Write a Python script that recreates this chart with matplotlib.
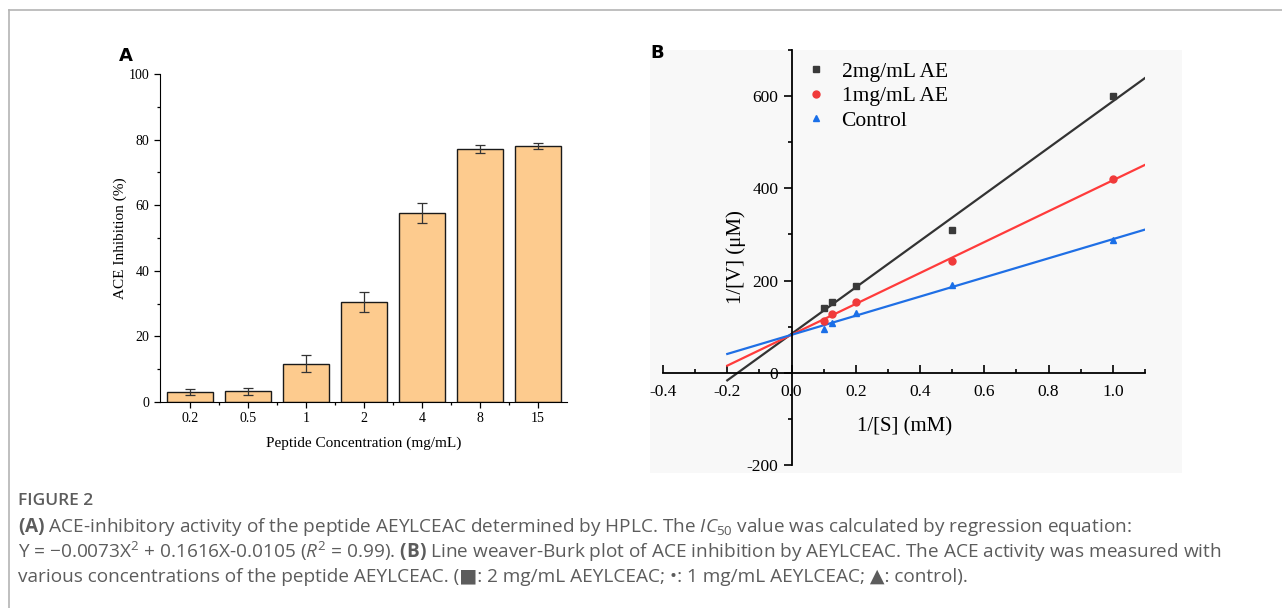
import numpy as np
import matplotlib.pyplot as plt
from matplotlib.ticker import MultipleLocator
from matplotlib.patches import Rectangle
from matplotlib.lines import Line2D

plt.rcParams['mathtext.fontset'] = 'custom'
plt.rcParams['mathtext.rm'] = 'Open Sans'
plt.rcParams['mathtext.it'] = 'Open Sans:italic'
plt.rcParams['mathtext.bf'] = 'Open Sans:bold'

# panel A data
conc_labels = ['0.2', '0.5', '1', '2', '4', '8', '15']
inhibition = [3.0, 3.3, 11.7, 30.5, 57.6, 77.2, 78.0]
inhibition_err = [1.0, 1.1, 2.6, 3.1, 3.1, 1.3, 0.9]

# panel B data (Lineweaver-Burk)
inv_s = [0.1, 0.125, 0.2, 0.5, 1.0]
inv_v_2mg = [140, 154, 189, 310, 600]
inv_v_1mg = [113, 128, 153, 243, 420]
inv_v_ctrl = [95, 109, 129, 191, 287]

serif = 'Liberation Serif'

fig = plt.figure(figsize=(12.82, 6.08), dpi=100)

# figure frame (left and top lines)
fig.add_artist(Line2D([9/1282, 9/1282], [0, 1 - 10/608], color='#b4b4b4', lw=1.2))
fig.add_artist(Line2D([9/1282, 1], [1 - 10/608, 1 - 10/608], color='#b4b4b4', lw=1.2))

# ---- panel A ----
ax1 = fig.add_axes([160/1282, 1 - 402/608, 407/1282, 328/608])
x = np.arange(len(conc_labels))
ax1.bar(x, inhibition, width=0.8, color='#fdcb8e', edgecolor='#1a1a1a', linewidth=1.0,
        yerr=inhibition_err, capsize=3.5, error_kw=dict(ecolor='#333333', elinewidth=0.9, capthick=0.9))
ax1.set_xlim(-0.52, 6.5)
ax1.set_ylim(0, 100)
ax1.set_xticks(x)
ax1.set_xticklabels(conc_labels)
ax1.set_xticks(x[:-1] + 0.5, minor=True)
ax1.yaxis.set_major_locator(MultipleLocator(20))
ax1.yaxis.set_minor_locator(MultipleLocator(10))
ax1.spines['top'].set_visible(False)
ax1.spines['right'].set_visible(False)
ax1.tick_params(which='major', length=4, width=0.9, labelsize=10)
ax1.tick_params(which='minor', length=2.5, width=0.9)
for lab in ax1.get_xticklabels() + ax1.get_yticklabels():
    lab.set_fontfamily(serif)
ax1.set_xlabel('Peptide Concentration (mg/mL)', fontfamily=serif, fontsize=11, labelpad=8)
ax1.set_ylabel('ACE Inhibition (%)', fontfamily=serif, fontsize=11, labelpad=1)
fig.text(119/1282, 1 - 56/608, 'A', fontsize=13, fontweight='bold', fontfamily='DejaVu Sans',
         va='center')

# ---- panel B ----
fig.add_artist(Rectangle((650/1282, 1 - 473/608), 532/1282, 423/608,
                         transform=fig.transFigure, facecolor='#f8f8f8', edgecolor='none', zorder=0))
ax2 = fig.add_axes([663/1282, 1 - 465/608, 482/1282, 415/608])
ax2.patch.set_alpha(0)
ax2.set_xlim(-0.4, 1.1)
ax2.set_ylim(-200, 700)
ax2.spines['left'].set_position(('data', 0))
ax2.spines['bottom'].set_position(('data', 0))
ax2.spines['top'].set_visible(False)
ax2.spines['right'].set_visible(False)
for s in ['left', 'bottom']:
    ax2.spines[s].set_linewidth(1.3)

series = [
    (inv_v_2mg, '#333333', '#3a3a3a', 's', '2mg/mL AE'),
    (inv_v_1mg, '#ff3b3b', '#f03a3a', 'o', '1mg/mL AE'),
    (inv_v_ctrl, '#1f6fe5', '#1a6fe8', '^', 'Control'),
]
xs = np.array([-0.2, 1.1])
for vals, lc, mc, mk, lab in series:
    k, b = np.polyfit(inv_s, vals, 1)
    ax2.plot(xs, k * xs + b, color=lc, lw=1.6, zorder=2)
    ax2.plot(inv_s, vals, linestyle='none', marker=mk, color=mc, markersize=5, label=lab, zorder=3)

ax2.xaxis.set_minor_locator(MultipleLocator(0.1))
ax2.yaxis.set_minor_locator(MultipleLocator(100))
ax2.tick_params(axis='x', which='both', direction='in', width=1.2)
ax2.tick_params(axis='x', which='major', length=6, pad=8)
ax2.tick_params(axis='x', which='minor', length=3)
ax2.tick_params(axis='y', which='both', direction='out', width=1.2)
ax2.tick_params(axis='y', which='major', length=6)
ax2.tick_params(axis='y', which='minor', length=3)
ax2.tick_params(labelsize=12.5)
ax2.set_xticks([-0.4, -0.2, 0.0, 0.2, 0.4, 0.6, 0.8, 1.0])
ax2.set_xticklabels(['-0.4', '-0.2', '0.0', '0.2', '0.4', '0.6', '0.8', '1.0'])
ax2.set_yticks([-200, 0, 200, 400, 600])
ax2.set_yticklabels(['-200', '0', '200', '400', '600'])
for lab in ax2.get_xticklabels() + ax2.get_yticklabels():
    lab.set_fontfamily(serif)

ax2.text(0.352, -117, '1/[S] (mM)', fontfamily=serif, fontsize=15, ha='center', va='center')
ax2.text(-0.172, 251, '1/[V] (μM)', fontfamily=serif, fontsize=15, ha='center', va='center',
         rotation=90)
ax2.legend(loc='upper left', bbox_to_anchor=(0.27, 1.0), frameon=False,
           prop={'family': serif, 'size': 15.5}, handletextpad=0.7, labelspacing=0.2,
           handlelength=1.0, borderaxespad=0.15)
fig.text(650/1282, 1 - 53/608, 'B', fontsize=13, fontweight='bold', fontfamily='DejaVu Sans',
         va='center')

# ---- caption ----
cap_col = '#5c5c5c'
fam = ['Open Sans', 'DejaVu Sans']
fig.text(18/1282, 1 - 501/608, 'FIGURE 2', fontsize=12.5, color=cap_col, family=fam,
         fontweight='semibold', va='center')
lines = [
    r'$\mathbf{(A)}$ ACE-inhibitory activity of the peptide AEYLCEAC determined by HPLC. The $IC_{50}$ value was calculated by regression equation:',
    r'Y = −0.0073X$^{2}$ + 0.1616X-0.0105 ($R^{2}$ = 0.99). $\mathbf{(B)}$ Line weaver-Burk plot of ACE inhibition by AEYLCEAC. The ACE activity was measured with',
    'various concentrations of the peptide AEYLCEAC. (■: 2 mg/mL AEYLCEAC; •: 1 mg/mL AEYLCEAC; ▲: control).',
]
for i, t in enumerate(lines):
    fig.text(18/1282, 1 - (526.5 + 25.5 * i)/608, t, fontsize=13.7, color=cap_col, family=fam,
             va='center')

fig.savefig('out.png', dpi=100)
